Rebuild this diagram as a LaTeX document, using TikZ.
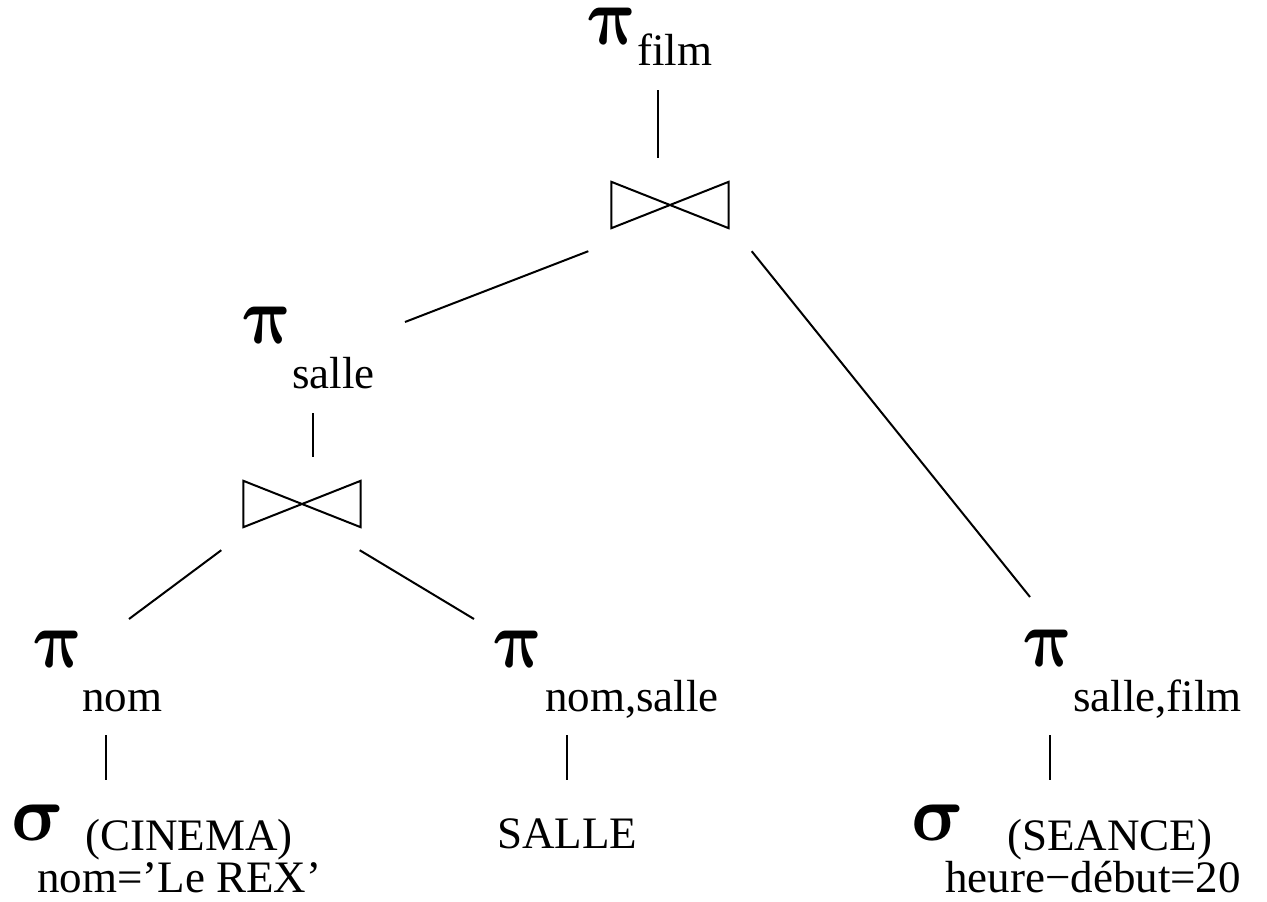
\documentclass[tikz,border=0pt]{standalone}
\usepackage{fontspec}
\setmainfont{Liberation Serif}
\usetikzlibrary{calc}
\tikzset{
  edge/.style={line width=2pt, line cap=butt},
  lbl/.style={anchor=base west, inner sep=0pt, font=\fontsize{45}{50}\selectfont},
  greek/.style={anchor=base west, inner sep=0pt, xscale=7, yscale=8.2, xslant=-0.22, font=\boldmath},
  sig/.style={anchor=base west, inner sep=0pt, xscale=7.8, yscale=8, xslant=-0.22, font=\boldmath},
  bowtie/.style={minimum width=117pt, minimum height=46pt, inner sep=0pt},
}
\begin{document}
\begin{tikzpicture}[x=1pt,y=-1pt]
\useasboundingbox (0,0) rectangle (1267,902);
% top projection
\node[greek] (pfilm) at (590,45) {$\pi$};
\node[lbl] (pfilmsub) at (637,65) {film};
\node[bowtie] (j1) at (670,205) {};
\draw[edge] (j1.north west) -- (j1.south west) -- (j1.north east) -- (j1.south east) -- cycle;
% salle projection
\node[greek] (psalle) at (245,343) {$\pi$};
\node[lbl] (psallesub) at (292,388) {salle};
\node[bowtie] (j2) at (302,504) {};
\draw[edge] (j2.north west) -- (j2.south west) -- (j2.north east) -- (j2.south east) -- cycle;
% bottom projections
\node[greek] (pnom) at (36,667) {$\pi$};
\node[lbl] (pnomsub) at (82,711) {nom};
\node[greek] (pns) at (496,667) {$\pi$};
\node[lbl] (pnssub) at (545,711) {nom,salle};
\node[greek] (psf) at (1026,666) {$\pi$};
\node[lbl] (psfsub) at (1073,711) {salle,film};
% leaves
\node[sig] (snom) at (13,840) {$\sigma$};
\node[lbl] (cinema) at (85,850) {(CINEMA)};
\node[lbl] (snomsub) at (37,892) {nom='Le REX'};
\node[lbl] (salle) at (497,848) {SALLE};
\node[sig] (sseance) at (913,840) {$\sigma$};
\node[lbl] (seance) at (1007,850) {(SEANCE)};
\node[lbl] (sseancesub) at (945,892) {heure−début=20};
% connectors
\draw[edge] ($(pfilm.base west)+(68,45)$) -- ($(j1.north)+(-12,-24)$);
\draw[edge] ($(j1.south west)+(-23,23)$) -- ($(psalle.base west)+(160,-21)$);
\draw[edge] ($(j1.south east)+(23,23)$) -- ($(psf.base west)+(4,-69)$);
\draw[edge] ($(psalle.base west)+(68,70)$) -- ($(j2.north)+(11,-24)$);
\draw[edge] ($(j2.south west)+(-22,23)$) -- ($(pnom.base west)+(93,-48)$);
\draw[edge] ($(j2.south east)+(-1,23)$) -- ($(pns.base west)+(-22,-48)$);
\draw[edge] ($(pnom.base west)+(70,68)$) -- ($(snom.base west)+(93,-60)$);
\draw[edge] ($(pns.base west)+(71,68)$) -- ($(salle.base west)+(70,-68)$);
\draw[edge] ($(psf.base west)+(24,69)$) -- ($(sseance.base west)+(137,-60)$);
\end{tikzpicture}
\end{document}
